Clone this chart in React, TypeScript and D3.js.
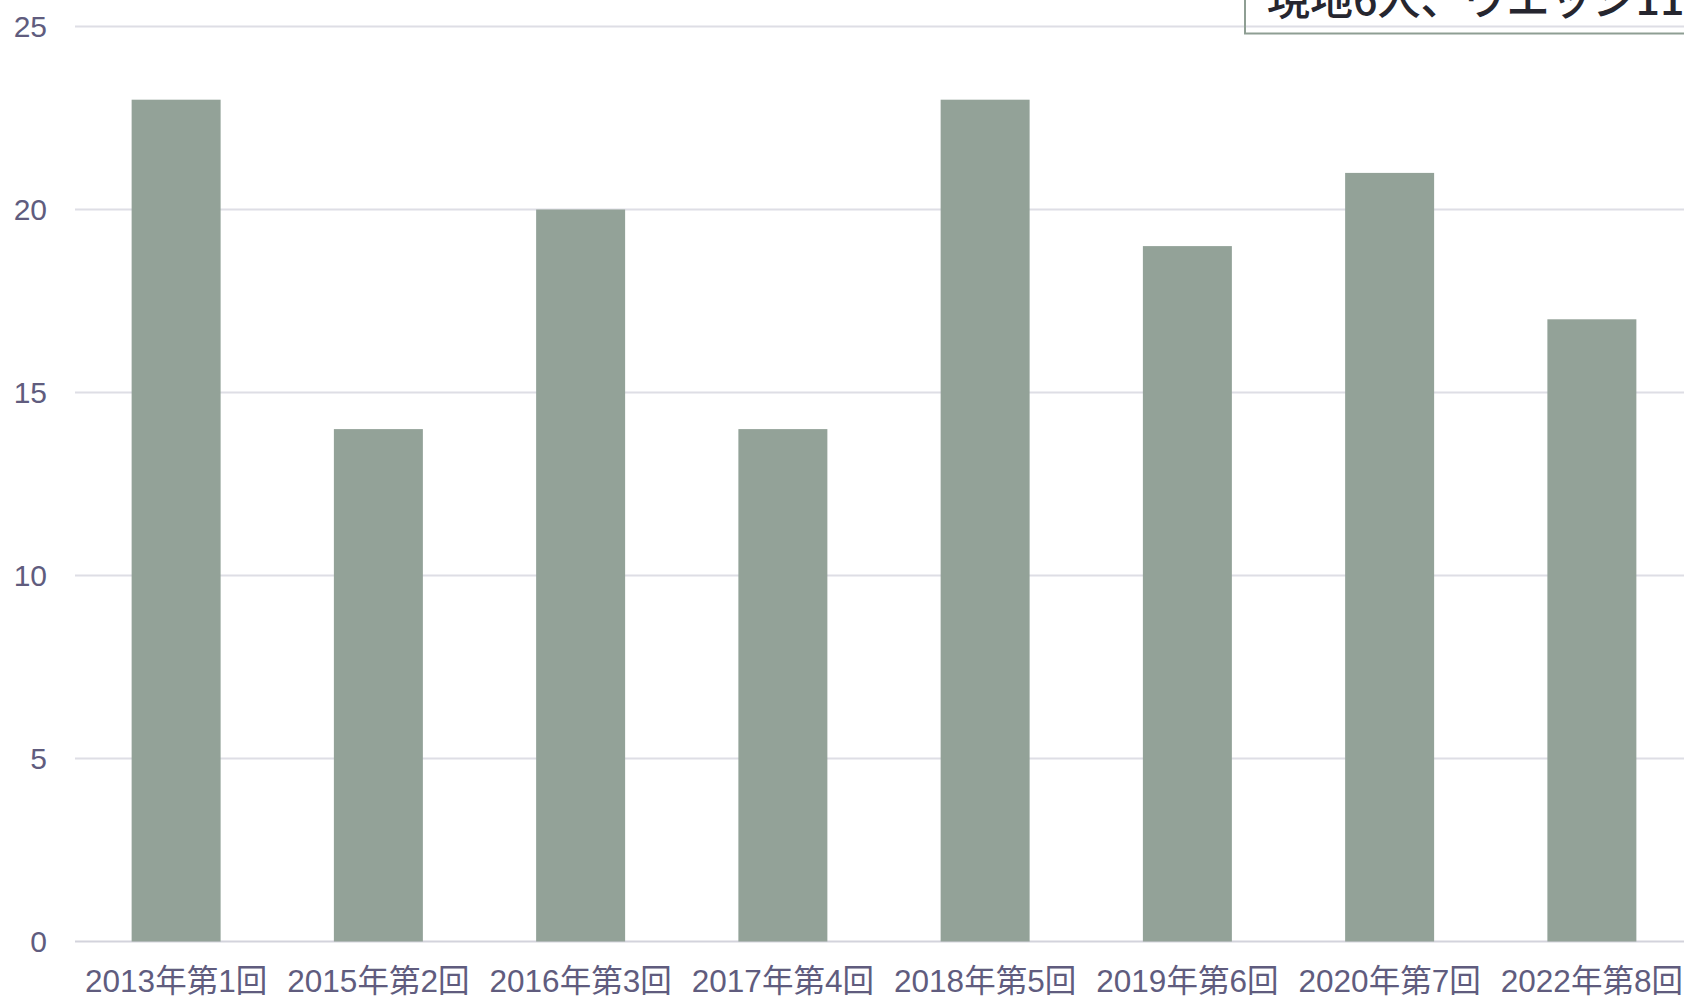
import React, { useEffect, useRef } from "react";
import * as d3 from "d3";

const categories = [
  "2013年第1回",
  "2015年第2回",
  "2016年第3回",
  "2017年第4回",
  "2018年第5回",
  "2019年第6回",
  "2020年第7回",
  "2022年第8回",
];
const values = [23, 14, 20, 14, 23, 19, 21, 17];
const yTicks = [0, 5, 10, 15, 20, 25];
const noteText = "現地6人、ウエッジ11人";

const App = () => {
  const svgRef = useRef<SVGSVGElement>(null);

  useEffect(() => {
    const w = 1684;
    const h = 998;
    const margin = { top: 26.5, bottom: 56.5, left: 75, right: -9 };
    const font = "'Liberation Sans', Arial, 'Noto Sans CJK JP', sans-serif";

    const svg = d3.select(svgRef.current).attr("width", w).attr("height", h);
    svg.selectAll("*").remove();

    const x = d3
      .scaleBand()
      .domain(categories)
      .range([margin.left, w - margin.right])
      .paddingInner(0.56)
      .paddingOuter(0.28);
    const y = d3
      .scaleLinear()
      .domain([0, 25])
      .range([h - margin.bottom, margin.top]);

    // gridlines
    svg
      .append("g")
      .selectAll("line")
      .data(yTicks)
      .enter()
      .append("line")
      .attr("x1", margin.left)
      .attr("x2", w)
      .attr("y1", (d) => y(d))
      .attr("y2", (d) => y(d))
      .attr("stroke", (d) => (d === 0 ? "#d3d3dc" : "#dedee5"))
      .attr("stroke-width", 2);

    // y labels
    svg
      .append("g")
      .selectAll("text")
      .data(yTicks)
      .enter()
      .append("text")
      .attr("x", 47)
      .attr("y", (d) => y(d))
      .attr("dy", "0.36em")
      .attr("text-anchor", "end")
      .attr("font-family", font)
      .attr("font-size", 30)
      .attr("fill", "#605c7e")
      .text((d) => d);

    // bars
    svg
      .append("g")
      .selectAll("rect")
      .data(values)
      .enter()
      .append("rect")
      .attr("x", (d, i) => x(categories[i]) as number)
      .attr("y", (d) => y(d))
      .attr("width", x.bandwidth())
      .attr("height", (d) => y(0) - y(d))
      .attr("fill", "#93a298");

    // x labels
    svg
      .append("g")
      .selectAll("text")
      .data(categories)
      .enter()
      .append("text")
      .attr("x", (d) => (x(d) as number) + x.bandwidth() / 2)
      .attr("y", 992)
      .attr("text-anchor", "middle")
      .attr("font-family", font)
      .attr("font-size", 31.5)
      .attr("fill", "#605c7e")
      .text((d) => d);

    // annotation box, mostly off the top edge
    svg
      .append("rect")
      .attr("x", 1245)
      .attr("y", -40)
      .attr("width", 500)
      .attr("height", 73.5)
      .attr("fill", "none")
      .attr("stroke", "#8e9e93")
      .attr("stroke-width", 2);

    svg
      .append("text")
      .attr("x", 1267)
      .attr("y", 15)
      .attr("font-family", "'Noto Sans CJK JP', sans-serif")
      .attr("font-size", 43)
      .attr("font-weight", 500)
      .attr("fill", "#26262f")
      .text(noteText);
  }, []);

  return (
    <div>
      <svg
        ref={svgRef}
        style={{ position: "fixed", left: 0, top: 0, background: "#fff" }}
      ></svg>
    </div>
  );
};

export default App;
